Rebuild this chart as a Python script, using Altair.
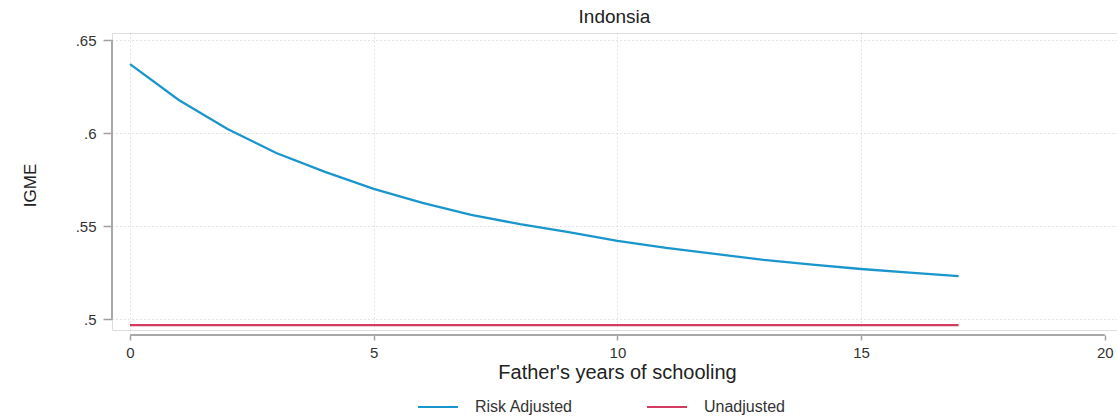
import altair as alt
import pandas as pd

schooling = [0, 1, 2, 3, 4, 5, 6, 7, 8, 9, 10, 11, 12, 13, 14, 15, 16, 17]
risk_adjusted = [0.6371, 0.6178, 0.6022, 0.5893, 0.5791, 0.5700, 0.5625, 0.5560,
                 0.5510, 0.5467, 0.5420, 0.5383, 0.5350, 0.5318, 0.5292, 0.5269,
                 0.5250, 0.5231]
unadjusted = [0.4967, 0.4967, 0.4967, 0.4967, 0.4967, 0.4967, 0.4967, 0.4967,
              0.4967, 0.4967, 0.4967, 0.4967, 0.4967, 0.4967, 0.4967, 0.4967,
              0.4967, 0.4967]
series_names = ["Risk Adjusted", "Unadjusted"]
series_colors = ["#1b96cc", "#d23a62"]
x_ticks = [0, 5, 10, 15, 20]
y_ticks = [0.5, 0.55, 0.6, 0.65]

rows = []
for i, x in enumerate(schooling):
    rows.append({"x": x, "y": risk_adjusted[i], "series": series_names[0]})
for i, x in enumerate(schooling):
    rows.append({"x": x, "y": unadjusted[i], "series": series_names[1]})
df = pd.DataFrame(rows)

FONT = "Liberation Sans"
W, H = 1005, 297

xscale = alt.Scale(domain=[-0.37, 20.25], nice=False, zero=False)
yscale = alt.Scale(domain=[0.4941, 0.6538], nice=False, zero=False)

lines = alt.Chart(df).mark_line(strokeWidth=2.3).encode(
    x=alt.X("x:Q", scale=xscale,
            axis=alt.Axis(values=x_ticks, format="d", domain=False, tickSize=5,
                          tickColor="#a0a0a0", tickWidth=1.5, labelPadding=5,
                          labelFontSize=15, labelColor="#333333", labelFont=FONT,
                          offset=5, grid=True, gridDash=[1, 3], gridColor="#c8c8c8",
                          gridOpacity={"condition": {"test": "datum.value >= 20", "value": 0}, "value": 1},
                          title="Father's years of schooling", titleFontSize=20,
                          titleFont=FONT, titleFontWeight="normal", titleColor="#222222",
                          titleX=505, titleY=37, titleBaseline="middle")),
    y=alt.Y("y:Q", scale=yscale,
            axis=alt.Axis(values=y_ticks, labelExpr="substring(format(datum.value, '.2~f'), 1)",
                          domain=False, tickSize=9, tickColor="#a0a0a0", tickWidth=1.5,
                          labelPadding=7, labelFontSize=15, labelColor="#333333",
                          labelFont=FONT, grid=True, gridDash=[1, 3], gridColor="#c8c8c8",
                          title="IGME", titleFontSize=17, titleFont=FONT,
                          titleFontWeight="normal", titleColor="#222222",
                          titleX=-82, titleY=152, titleAngle=-90, titleBaseline="middle")),
    color=alt.Color("series:N",
                    scale=alt.Scale(domain=series_names, range=series_colors),
                    legend=alt.Legend(orient="none", legendX=305, legendY=353,
                                      direction="horizontal", title=None,
                                      symbolType="stroke", symbolSize=1600,
                                      symbolStrokeWidth=2, labelFontSize=16,
                                      labelFont=FONT, labelColor="#333333",
                                      labelOffset=16, columnPadding=70, padding=0)),
)

yaxis_df = pd.DataFrame({"y": [y_ticks[0]], "y2": [y_ticks[-1]]})
yaxis_line = alt.Chart(yaxis_df).mark_rule(color="#a8a8a8", strokeWidth=2).encode(
    y=alt.Y("y:Q", scale=yscale), y2="y2:Q", x=alt.value(0))

xaxis_df = pd.DataFrame({"x": [x_ticks[0]], "x2": [x_ticks[-1]]})
xaxis_line = alt.Chart(xaxis_df).mark_rule(color="#a8a8a8", strokeWidth=2).encode(
    x=alt.X("x:Q", scale=xscale), x2="x2:Q", y=alt.value(H + 5))

chart = alt.layer(lines, yaxis_line, xaxis_line).properties(
    width=W, height=H,
    title=alt.TitleParams("Indonsia", fontSize=19, font=FONT, fontWeight="normal",
                          color="#222222", anchor="middle", frame="group", offset=6),
    autosize=alt.AutoSizeParams(type="none"),
    padding={"left": 112, "top": 33, "right": 0, "bottom": 89},
).configure_view(stroke=None).configure(background="white")

chart.save("out.html", embed_options={"renderer": "svg", "actions": False})
